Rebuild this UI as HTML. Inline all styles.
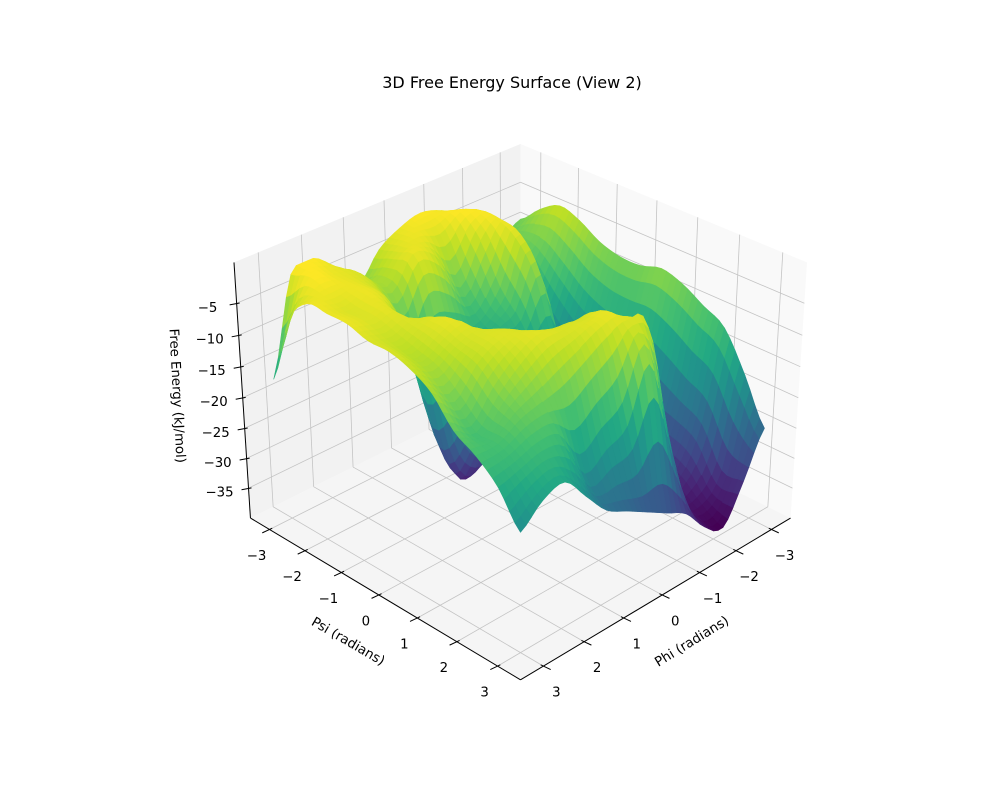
<!DOCTYPE html>
<html>
<head>
<meta charset="utf-8">
<style>
html,body{margin:0;padding:0;background:#ffffff;}
svg{display:block;}
text{font-family:"DejaVu Sans","Liberation Sans",sans-serif;fill:#000;}
</style>
</head>
<body>
<svg id="chart" width="1000" height="800" viewBox="0 0 1000 800" xmlns="http://www.w3.org/2000/svg">
  <rect x="0" y="0" width="1000" height="800" fill="#ffffff"/>
  <g id="panes"></g>
  <g id="grid"></g>
  <g id="axes"></g>
  <g id="surface"></g>
  <text x="512" y="88" font-size="16" text-anchor="middle">3D Free Energy Surface (View 2)</text>
  <text font-size="13.3" text-anchor="middle" transform="translate(346,645) rotate(30.2)">Psi (radians)</text>
  <text font-size="13.3" text-anchor="middle" transform="translate(694,645) rotate(-31.6)">Phi (radians)</text>
  <text font-size="13.3" text-anchor="middle" transform="translate(173,396) rotate(87)">Free Energy (kJ/mol)</text>
</svg>
<script>
const phiVals = [-3.14,-2.62,-2.09,-1.57,-1.05,-0.52,0,0.52,1.05,1.57,2.09,2.62,3.14];
const psiVals = [-3.14,-2.62,-2.09,-1.57,-1.05,-0.52,0,0.52,1.05,1.57,2.09,2.62,3.14];
const energyPhiM314 = [-9,-6,-4,-5,-7,-8,-8,-7,-8,-10,-12,-18,-25];
const energyPhiM262 = [-10,-9,-10,-13,-16,-18,-19,-20,-22,-24,-26,-32,-32];
const energyPhiM209 = [-5,-6,-12,-18,-22,-26,-30,-33,-34,-32,-33,-36,-38];
const energyPhiM157 = [-4,-2,-2,-3,-8,-20,-28,-34,-36,-33,-32,-34,-36];
const energyPhiM105 = [-2,-1,-4,-10,-14,-20,-26,-28,-24,-20,-6,-20,-32];
const energyPhiM052 = [-1,-3,-10,-14,-16,-24,-22,-14,-8,-4,-3,-8,-30];
const energyPhi000 = [-2,-2,-5,-14,-26,-30,-24,-14,-6,-3,-4,-16,-28];
const energyPhiP052 = [-4,-3,-3,-14,-34,-30,-20,-10,-5,-3,-6,-18,-26];
const energyPhiP105 = [-8,-6,-8,-18,-28,-24,-12,-5,-3,-3,-8,-20,-24];
const energyPhiP157 = [-4,-3,-4,-6,-12,-6,-3,-3,-3,-5,-9,-14,-20];
const energyPhiP209 = [-1,-2,-2,-2,-3,-3,-3,-4,-5,-8,-10,-13,-16];
const energyPhiP262 = [-2,-1,-2,-3,-3,-4,-5,-6,-9,-12,-12,-14,-17];
const energyPhiP314 = [-17,-6,-2,-2,-2,-3,-3,-4,-6,-10,-12,-15,-20];
const energy = [energyPhiM314,energyPhiM262,energyPhiM209,energyPhiM157,energyPhiM105,energyPhiM052,energyPhi000,energyPhiP052,energyPhiP105,energyPhiP157,energyPhiP209,energyPhiP262,energyPhiP314];
const phiTicks = [-3,-2,-1,0,1,2,3];
const psiTicks = [-3,-2,-1,0,1,2,3];
const zTicks = [-35,-30,-25,-20,-15,-10,-5];

const AX = 3.55, ZMIN = -40.1, ZMAX = 1.3;
const S = 196.6, X0 = 520.5, Y0 = 394, DIST = 12.7;
const NS = 'http://www.w3.org/2000/svg';

function proj(p, q, z) {
  const xb = p / AX, yb = q / AX;
  const zb = 0.75 * (2 * (z - ZMIN) / (ZMAX - ZMIN) - 1);
  const u = 0.70711 * (yb - xb);
  const v = -0.35355 * (xb + yb) + 0.86603 * zb;
  const w = 0.61237 * (xb + yb) + 0.5 * zb;
  const f = DIST / (DIST - w);
  return [X0 + S * u * f, Y0 - S * v * f, w];
}

const viridis = [[68,1,84],[72,36,117],[65,68,135],[53,95,141],[42,120,142],[33,145,140],[34,168,132],[68,191,112],[122,209,81],[189,223,38],[253,231,37]];
function cmap(t) {
  t = Math.max(0, Math.min(1, t));
  const x = t * 10, i = Math.min(9, Math.floor(x)), fr = x - i;
  const a = viridis[i], b = viridis[i + 1];
  return 'rgb(' + Math.round(a[0] + (b[0] - a[0]) * fr) + ',' + Math.round(a[1] + (b[1] - a[1]) * fr) + ',' + Math.round(a[2] + (b[2] - a[2]) * fr) + ')';
}

function line(g, a, b, color, width) {
  const el = document.createElementNS(NS, 'line');
  el.setAttribute('x1', a[0].toFixed(2)); el.setAttribute('y1', a[1].toFixed(2));
  el.setAttribute('x2', b[0].toFixed(2)); el.setAttribute('y2', b[1].toFixed(2));
  el.setAttribute('stroke', color); el.setAttribute('stroke-width', width);
  g.appendChild(el);
  return el;
}
function poly(g, pts, fill, stroke) {
  const el = document.createElementNS(NS, 'polygon');
  el.setAttribute('points', pts.map(p => p[0].toFixed(2) + ',' + p[1].toFixed(2)).join(' '));
  el.setAttribute('fill', fill);
  if (stroke) { el.setAttribute('stroke', stroke); el.setAttribute('stroke-width', '0.6'); el.setAttribute('stroke-linejoin', 'round'); }
  g.appendChild(el);
  return el;
}
function txt(g, x, y, s, anchor) {
  const el = document.createElementNS(NS, 'text');
  el.setAttribute('x', x.toFixed(1)); el.setAttribute('y', y.toFixed(1));
  el.setAttribute('font-size', '13.3');
  el.setAttribute('text-anchor', anchor || 'middle');
  el.setAttribute('dominant-baseline', 'central');
  el.textContent = s;
  g.appendChild(el);
  return el;
}
function fmt(n) { return n < 0 ? '\u2212' + Math.abs(n) : String(n); }

// panes
const panes = document.getElementById('panes');
const floorPane = poly(panes, [proj(AX,-AX,ZMIN),proj(-AX,-AX,ZMIN),proj(-AX,AX,ZMIN),proj(AX,AX,ZMIN)], '#f5f5f5');


const leftPane = poly(panes, [proj(AX,-AX,ZMIN),proj(-AX,-AX,ZMIN),proj(-AX,-AX,ZMAX),proj(AX,-AX,ZMAX)], '#f2f2f2');


const rightPane = poly(panes, [proj(-AX,-AX,ZMIN),proj(-AX,AX,ZMIN),proj(-AX,AX,ZMAX),proj(-AX,-AX,ZMAX)], '#f9f9f9');



// grid
const grid = document.getElementById('grid');
const GC = '#c4c4c4', GW = '0.8';
phiTicks.forEach(t => {
  const a = line(grid, proj(t,-AX,ZMIN), proj(t,AX,ZMIN), GC, GW);
  
  
  const b = line(grid, proj(t,-AX,ZMIN), proj(t,-AX,ZMAX), GC, GW);
  
  
});
psiTicks.forEach(t => {
  const a = line(grid, proj(-AX,t,ZMIN), proj(AX,t,ZMIN), GC, GW);
  
  
  const b = line(grid, proj(-AX,t,ZMIN), proj(-AX,t,ZMAX), GC, GW);
  
  
});
zTicks.forEach(t => {
  const a = line(grid, proj(AX,-AX,t), proj(-AX,-AX,t), GC, GW);
  
  
  const b = line(grid, proj(-AX,-AX,t), proj(-AX,AX,t), GC, GW);
  
  
});

// axes
const axes = document.getElementById('axes');
const zAxis = line(axes, proj(AX,-AX,ZMIN), proj(AX,-AX,ZMAX), '#000', '1');


const psiAxis = line(axes, proj(AX,-AX,ZMIN), proj(AX,AX,ZMIN), '#000', '1');


const phiAxis = line(axes, proj(AX,AX,ZMIN), proj(-AX,AX,ZMIN), '#000', '1');



psiTicks.forEach(t => {
  const p = proj(AX, t, ZMIN);
  const tk = line(axes, [p[0]+2.7, p[1]-1.3], [p[0]-7.3, p[1]+3.4], '#000', '1');
  
  
  const lb = txt(axes, p[0]-13, p[1]+27, fmt(t));
  
  
});
phiTicks.forEach(t => {
  const p = proj(t, AX, ZMIN);
  const tk = line(axes, [p[0]-2.7, p[1]-1.3], [p[0]+7.3, p[1]+3.4], '#000', '1');
  
  
  const lb = txt(axes, p[0]+13, p[1]+27, fmt(t));
  
  
});
zTicks.forEach(t => {
  const p = proj(AX, -AX, t);
  const tk = line(axes, [p[0]+3, p[1]-0.3], [p[0]-7, p[1]+1.6], '#000', '1');
  
  
  const lb = txt(axes, p[0]-29, p[1]+5, fmt(t));
  
  
});

// surface
function cr(p0, p1, p2, p3, t) {
  return 0.5 * (2*p1 + (-p0+p2)*t + (2*p0-5*p1+4*p2-p3)*t*t + (-p0+3*p1-3*p2+p3)*t*t*t);
}
const N = energy.length, SUB = 4, M = (N - 1) * SUB + 1;
function ev(i, j) { i = Math.max(0, Math.min(N-1, i)); j = Math.max(0, Math.min(N-1, j)); return energy[i][j]; }
let dmin = Infinity, dmax = -Infinity;
energy.forEach(r => r.forEach(v => { dmin = Math.min(dmin, v); dmax = Math.max(dmax, v); }));
function sample(fi, fj) {
  const i = Math.min(N - 2, Math.floor(fi)), j = Math.min(N - 2, Math.floor(fj));
  const ti = fi - i, tj = fj - j;
  const rows = [];
  for (let k = -1; k <= 2; k++) rows.push(cr(ev(i+k,j-1), ev(i+k,j), ev(i+k,j+1), ev(i+k,j+2), tj));
  const v = cr(rows[0], rows[1], rows[2], rows[3], ti);
  return Math.max(dmin, Math.min(dmax, v));
}
function coord(vals, f) {
  const i = Math.min(vals.length - 2, Math.floor(f)), t = f - i;
  return vals[i] + (vals[i+1] - vals[i]) * t;
}
const pts = [];
for (let a = 0; a < M; a++) {
  const row = [];
  for (let b = 0; b < M; b++) {
    const fi = a / SUB, fj = b / SUB;
    const p = coord(phiVals, fi), q = coord(psiVals, fj), z = sample(fi, fj);
    row.push({ z: z, s: proj(p, q, z) });
  }
  pts.push(row);
}
const faces = [];
let fmin = Infinity, fmax = -Infinity;
for (let a = 0; a < M - 1; a++) {
  for (let b = 0; b < M - 1; b++) {
    const c = [pts[a][b], pts[a+1][b], pts[a+1][b+1], pts[a][b+1]];
    const zavg = (c[0].z + c[1].z + c[2].z + c[3].z) / 4;
    const depth = (c[0].s[2] + c[1].s[2] + c[2].s[2] + c[3].s[2]) / 4;
    fmin = Math.min(fmin, zavg); fmax = Math.max(fmax, zavg);
    faces.push({ c: c, zavg: zavg, depth: depth });
  }
}
faces.sort((m, n) => m.depth - n.depth);
const surf = document.getElementById('surface');
faces.forEach(fc => {
  const col = cmap((fc.zavg - fmin) / (fmax - fmin));
  const el = poly(surf, fc.c.map(p => p.s), col, col);
  
  
});
</script>
</body>
</html>
